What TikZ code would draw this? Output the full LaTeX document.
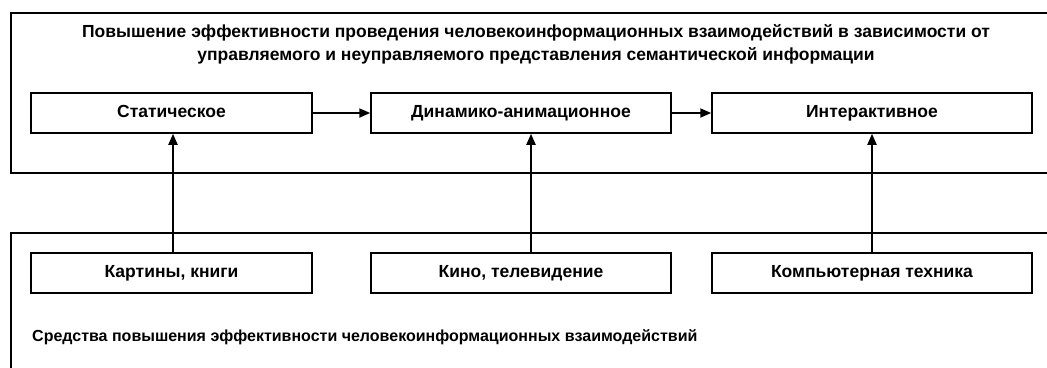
\documentclass[tikz,border=0pt]{standalone}
\usepackage{fontspec}
\setmainfont{Liberation Sans}
\usetikzlibrary{arrows.meta}
\begin{document}
\begin{tikzpicture}[x=1pt,y=-1pt,
  lbl/.style={font=\bfseries\fontsize{17.5}{23}\selectfont},
  box/.style={draw,line width=1.5pt,minimum height=40pt,inner sep=0pt,lbl,text height=12.5pt,text depth=3.5pt},
  frame/.style={draw,line width=1.5pt},
  arr/.style={line width=2pt,-{Triangle[length=11pt,width=9pt]}}]
\useasboundingbox (0,0) rectangle (1047,367);
% outer frames
\draw[frame] (1060,13) -- (11,13) -- (11,173) -- (1060,173);
\draw[frame] (1060,233) -- (11,233) -- (11,380);
% title
\node[lbl,align=center] (title) at (536,44) {Повышение эффективности проведения человекоинформационных взаимодействий в зависимости от\\управляемого и неуправляемого представления семантической информации};
% top row
\node[box,minimum width=281pt] (s1) at (171.5,113) {Статическое};
\node[box,minimum width=300pt] (s2) at (521,113) {Динамико-анимационное};
\node[box,minimum width=320pt] (s3) at (872,113) {Интерактивное};
% bottom row
\node[box,minimum width=281pt] (m1) at (171.5,273) {Картины, книги};
\node[box,minimum width=300pt] (m2) at (521,273) {Кино, телевидение};
\node[box,minimum width=320pt] (m3) at (872,273) {Компьютерная техника};
% bottom caption
\node[font=\bfseries\fontsize{16}{20}\selectfont,anchor=west,inner sep=0pt] (cap) at (32,337) {Средства повышения эффективности человекоинформационных взаимодействий};
% arrows
\draw[arr] (s1) -- (s2);
\draw[arr] (s2) -- (s3);
\coordinate (x1) at (173,0);
\coordinate (x2) at (531,0);
\coordinate (x3) at (872,0);
\draw[arr] (m1.north -| x1) -- (s1.south -| x1);
\draw[arr] (m2.north -| x2) -- (s2.south -| x2);
\draw[arr] (m3.north -| x3) -- (s3.south -| x3);
\end{tikzpicture}
\end{document}
